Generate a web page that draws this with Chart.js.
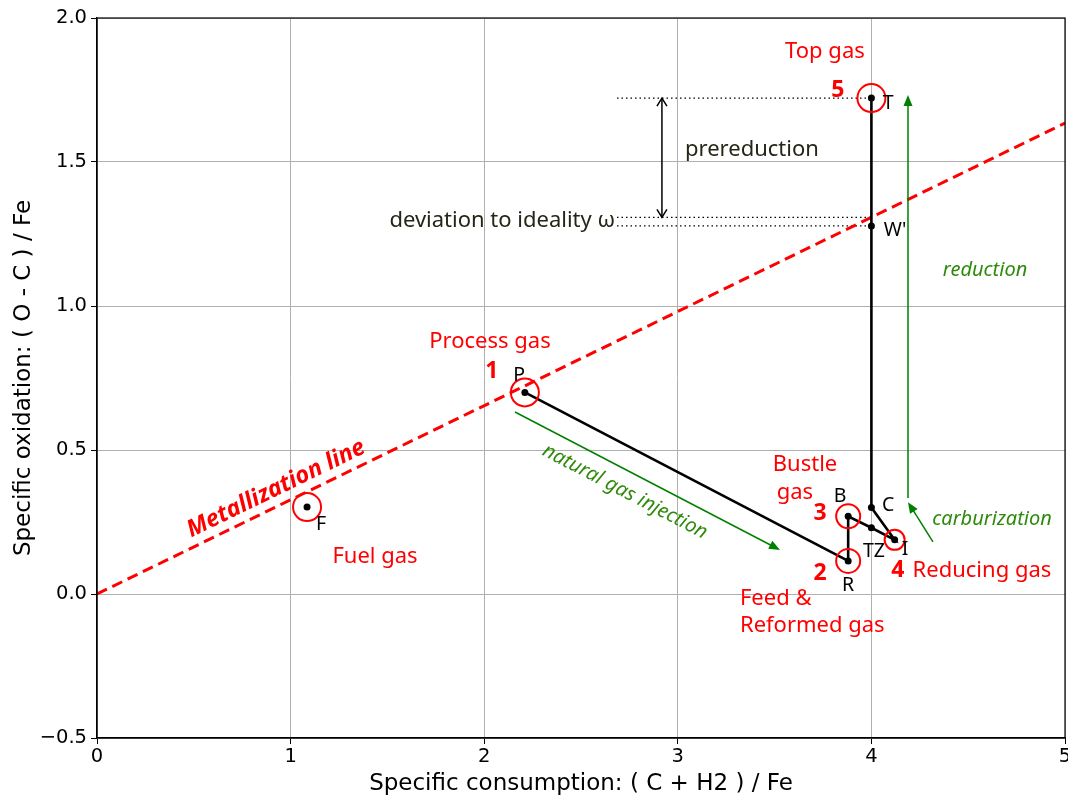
<!DOCTYPE html>
<html>
<head>
<meta charset="utf-8">
<script src="https://cdn.jsdelivr.net/npm/chart.js@4.4.1/dist/chart.umd.min.js"></script>
<style>
  html, body { margin: 0; padding: 0; background: #fff; }
  #wrap { width: 1068px; height: 798px; }
</style>
</head>
<body>
<div id="wrap"><canvas id="c" width="1068" height="798"></canvas></div>
<script>
// Gas path through the shaft: P -> R -> B -> TZ -> I -> C -> W' -> T
const pathNames = ['P', 'R', 'B', 'TZ', 'I', 'C', "W'", 'T'];
const pathX = [2.21, 3.88, 3.88, 4.0, 4.12, 4.0, 4.0, 4.0];
const pathY = [0.70, 0.115, 0.27, 0.23, 0.188, 0.30, 1.278, 1.722];

// Fuel gas point
const fuelX = [1.085];
const fuelY = [0.302];

// Highlighted gas streams (red rings)
const ringX = [2.21, 3.88, 3.88, 4.12, 4.0, 1.085];
const ringY = [0.70, 0.115, 0.27, 0.188, 1.722, 0.302];
const ringR = [14, 12, 12, 10, 14, 14];

// Metallization line: oxidation = slope * consumption
const metalSlope = 0.327;
const metalX = [0, 5];

// Axis ticks
const xTicks = [0, 1, 2, 3, 4, 5];
const yTicks = [-0.5, 0, 0.5, 1.0, 1.5, 2.0];

// Point letters [text, x, y]
const pointLabels = [
  ['P', 2.18, 0.767], ['T', 4.086, 1.712], ["W'", 4.122, 1.271], ['C', 4.086, 0.316],
  ['B', 3.838, 0.347], ['TZ', 4.013, 0.153], ['I', 4.174, 0.163], ['R', 3.879, 0.038],
  ['F', 1.157, 0.247]
];
// Stream names [text, x, y, align]
const streamLabels = [
  ['Top gas', 3.76, 1.889, 'center'], ['Process gas', 2.03, 0.882, 'center'],
  ['Bustle', 3.657, 0.455, 'center'], ['gas', 3.605, 0.358, 'center'],
  ['Feed &', 3.321, -0.010, 'left'], ['Reformed gas', 3.321, -0.104, 'left'],
  ['Reducing gas', 4.571, 0.087, 'center'], ['Fuel gas', 1.436, 0.135, 'center']
];
// Stream numbers [text, x, y]
const streamNumbers = [
  ['5', 3.827, 1.757], ['1', 2.04, 0.781], ['3', 3.735, 0.288],
  ['2', 3.735, 0.080], ['4', 4.137, 0.087]
];
// Process arrows [x0, y0, x1, y1]
const greenArrows = [
  [2.159, 0.632, 3.528, 0.153],
  [4.189, 0.333, 4.189, 1.733],
  [4.318, 0.181, 4.189, 0.319]
];
// Prereduction span
const preX = 2.918;
const preY = [1.722, 1.308];
// Dotted guide levels
const guideX = [2.686, 4.0];
const guideY = [1.722, 1.308, 1.278];

const metalData = metalX.map(x => ({ x: x, y: metalSlope * x }));
const pathData = pathX.map((x, i) => ({ x: x, y: pathY[i] }));
const fuelData = fuelX.map((x, i) => ({ x: x, y: fuelY[i] }));
const ringData = ringX.map((x, i) => ({ x: x, y: ringY[i] }));

const RED = '#ff0000';
const GREEN = '#008000';
const GREEN_TXT = '#2f8a0c';
const DARK = '#262617';
const NOTO = '"Noto Sans", "Open Sans", sans-serif';
const TXT_DY = 2; // nudges annotation text to the visual centre of its glyphs

function arrowHead(ctx, x0, y0, x1, y1, len, half, filled) {
  const a = Math.atan2(y1 - y0, x1 - x0);
  const bx = x1 - len * Math.cos(a), by = y1 - len * Math.sin(a);
  const px = -Math.sin(a) * half, py = Math.cos(a) * half;
  ctx.beginPath();
  ctx.moveTo(bx + px, by + py);
  ctx.lineTo(x1, y1);
  ctx.lineTo(bx - px, by - py);
  if (filled) { ctx.closePath(); ctx.fill(); } else { ctx.stroke(); }
}

const notes = {
  id: 'notes',
  beforeDatasetsDraw(chart) {
    const ctx = chart.ctx, xs = chart.scales.x, ys = chart.scales.y;
    // dotted guides
    ctx.save();
    ctx.strokeStyle = '#000';
    ctx.lineWidth = 1.2;
    ctx.setLineDash([1.5, 3]);
    guideY.forEach(g => {
      ctx.beginPath();
      ctx.moveTo(xs.getPixelForValue(guideX[0]), ys.getPixelForValue(g));
      ctx.lineTo(xs.getPixelForValue(guideX[1]), ys.getPixelForValue(g));
      ctx.stroke();
    });
    ctx.restore();
  },
  afterDatasetsDraw(chart) {
    const ctx = chart.ctx, xs = chart.scales.x, ys = chart.scales.y;
    const X = v => xs.getPixelForValue(v), Y = v => ys.getPixelForValue(v);
    const TY = v => Y(v) + TXT_DY;
    ctx.save();

    // green arrows
    ctx.strokeStyle = GREEN; ctx.fillStyle = GREEN; ctx.lineWidth = 1.5;
    greenArrows.forEach(a => {
      const x0 = X(a[0]), y0 = Y(a[1]), x1 = X(a[2]), y1 = Y(a[3]);
      const ang = Math.atan2(y1 - y0, x1 - x0);
      ctx.beginPath();
      ctx.moveTo(x0, y0);
      ctx.lineTo(x1 - 8 * Math.cos(ang), y1 - 8 * Math.sin(ang));
      ctx.stroke();
      arrowHead(ctx, x0, y0, x1, y1, 11, 4.5, true);
    });

    // prereduction double arrow
    ctx.strokeStyle = '#000'; ctx.lineWidth = 1.5;
    const px = X(preX), pa = Y(preY[0]), pb = Y(preY[1]);
    ctx.beginPath(); ctx.moveTo(px, pa); ctx.lineTo(px, pb); ctx.stroke();
    arrowHead(ctx, px, pb, px, pa, 8, 5, false);
    arrowHead(ctx, px, pa, px, pb, 8, 5, false);

    ctx.textBaseline = 'middle';
    // point letters
    ctx.fillStyle = '#000'; ctx.textAlign = 'center';
    ctx.font = '19.5px ' + NOTO;
    pointLabels.forEach(l => ctx.fillText(l[0], X(l[1]), TY(l[2])));

    // stream names
    ctx.fillStyle = RED; ctx.font = '22px ' + NOTO;
    streamLabels.forEach(l => { ctx.textAlign = l[3]; ctx.fillText(l[0], X(l[1]), TY(l[2])); });
    ctx.textAlign = 'center';
    ctx.font = 'bold 23px ' + NOTO;
    streamNumbers.forEach(l => ctx.fillText(l[0], X(l[1]), TY(l[2])));

    // dark annotations
    ctx.fillStyle = DARK; ctx.font = '22px ' + NOTO;
    ctx.fillText('prereduction', X(3.383), TY(1.549));
    ctx.textAlign = 'right';
    ctx.fillText('deviation to ideality \u03c9', X(2.676), TY(1.302));

    // green italic annotations
    ctx.textAlign = 'center'; ctx.fillStyle = GREEN_TXT;
    ctx.font = 'italic 20px ' + NOTO;
    ctx.fillText('reduction', X(4.587), TY(1.132));
    ctx.fillText('carburization', X(4.623), TY(0.267));
    const a1 = greenArrows[0];
    const angG = Math.atan2(Y(a1[3]) - Y(a1[1]), X(a1[2]) - X(a1[0]));
    ctx.save();
    ctx.translate(X(2.727), TY(0.362));
    ctx.rotate(angG);
    ctx.fillText('natural gas injection', 0, 0);
    ctx.restore();

    // metallization line label
    const angM = Math.atan2(Y(metalSlope * 5) - Y(0), X(5) - X(0));
    ctx.save();
    ctx.translate(X(0.925), TY(0.372));
    ctx.rotate(angM);
    ctx.fillStyle = RED;
    ctx.font = 'italic bold 23.5px ' + NOTO;
    ctx.fillText('Metallization line', 0, 0);
    ctx.restore();

    ctx.restore();
  },
  afterDraw(chart) {
    const ctx = chart.ctx, a = chart.chartArea;
    ctx.save();
    ctx.strokeStyle = '#000'; ctx.lineWidth = 1.2;
    ctx.strokeRect(a.left, a.top, a.right - a.left, a.bottom - a.top);
    ctx.restore();
  }
};

const fmtY = v => (v < 0 ? '\u2212' : '') + Math.abs(v).toFixed(1);

new Chart(document.getElementById('c'), {
  type: 'scatter',
  data: {
    datasets: [
      { data: metalData, showLine: true, borderColor: RED, borderWidth: 3,
        borderDash: [11, 6], pointRadius: 0, order: 4 },
      { data: pathData, showLine: true, borderColor: '#000', borderWidth: 2.6,
        pointRadius: 3.5, pointBackgroundColor: '#000', pointBorderWidth: 0, order: 3 },
      { data: fuelData, pointRadius: 3.5, pointBackgroundColor: '#000', pointBorderWidth: 0, order: 2 },
      { data: ringData, pointRadius: ctx => ringR[ctx.dataIndex], pointBorderColor: RED,
        pointBackgroundColor: 'rgba(0,0,0,0)', pointBorderWidth: 2, order: 1 }
    ]
  },
  options: {
    responsive: false,
    animation: false,
    events: [],
    layout: { autoPadding: false, padding: { top: 18, right: 3, left: 0, bottom: 0 } },
    plugins: { legend: { display: false }, tooltip: { enabled: false } },
    scales: {
      x: {
        type: 'linear', min: 0, max: 5,
        afterBuildTicks: s => { s.ticks = xTicks.map(v => ({ value: v })); },
        afterFit: s => { s.height = 60; s.paddingLeft = 0; s.paddingRight = 0; },
        ticks: { color: '#000', font: { family: 'DejaVu Sans', size: 19.5 }, padding: 1,
                 callback: v => String(v) },
        grid: { color: '#b0b0b0', lineWidth: 1, tickColor: '#000', tickLength: 6 },
        border: { display: true, color: '#000', width: 1.2 },
        title: { display: true, text: 'Specific consumption: ( C + H2 ) / Fe', color: '#000',
                 font: { family: 'DejaVu Sans', size: 23 }, padding: { top: 0, bottom: 0 } }
      },
      y: {
        type: 'linear', min: -0.5, max: 2.0,
        afterBuildTicks: s => { s.ticks = yTicks.map(v => ({ value: v })); },
        afterFit: s => { s.width = 97; s.paddingTop = 0; s.paddingBottom = 0; },
        ticks: { color: '#000', font: { family: 'DejaVu Sans', size: 19.5 }, padding: 4,
                 callback: v => fmtY(v) },
        grid: { color: '#b0b0b0', lineWidth: 1, tickColor: '#000', tickLength: 6 },
        border: { display: true, color: '#000', width: 1.2 },
        title: { display: true, text: 'Specific oxidation: ( O - C ) / Fe', color: '#000',
                 font: { family: 'DejaVu Sans', size: 23 }, padding: { top: 10, bottom: 0 } }
      }
    }
  },
  plugins: [notes]
});
</script>
</body>
</html>
